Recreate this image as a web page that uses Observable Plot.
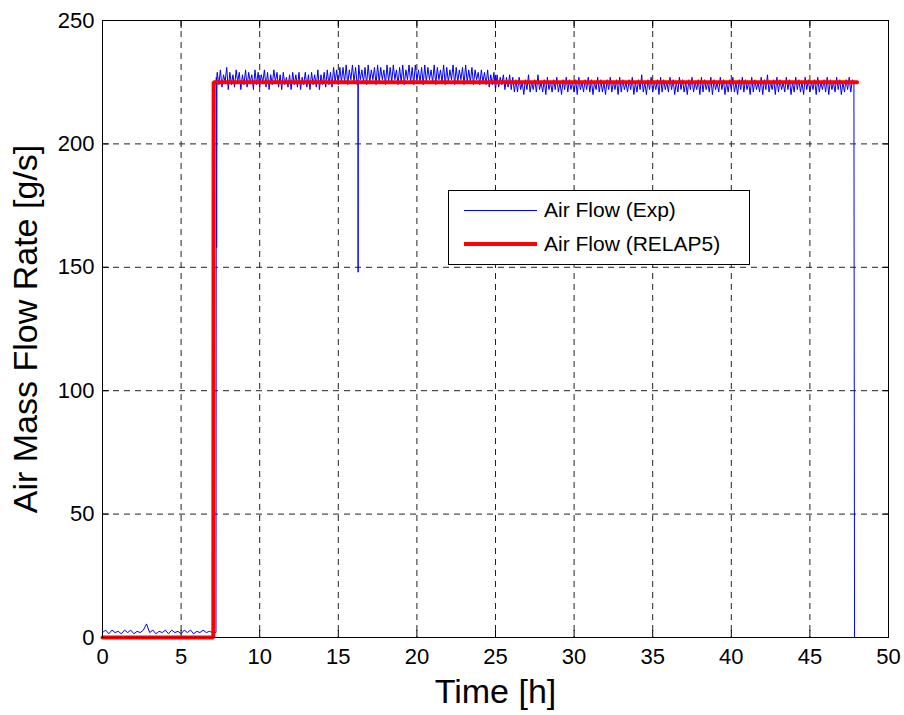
<!DOCTYPE html>
<html>
<head>
<meta charset="utf-8">
<script src="https://cdn.jsdelivr.net/npm/d3@7"></script>
<script src="https://cdn.jsdelivr.net/npm/@observablehq/plot@0.6"></script>
<style>
  body { margin: 0; background: white; font-family: "Liberation Sans", Arial, sans-serif; }
  #wrap { position: relative; width: 904px; height: 715px; }
  #legend { position: absolute; left: 448px; top: 190px; width: 302px; height: 75px; border: 1px solid black; background: white; box-sizing: border-box; }
  .item { position: absolute; left: 0; height: 30px; width: 300px; }
  .swatch { position: absolute; left: 15px; width: 73px; }
  .lbl { position: absolute; left: 95px; font-size: 21px; line-height: 30px; top: 0; white-space: nowrap; }
</style>
</head>
<body>
<div id="wrap">
  <div id="chart"></div>
  <div id="legend">
    <div class="item" style="top:4px"><div class="swatch" style="top:15px;height:1px;background:#0000ff"></div><div class="lbl">Air Flow (Exp)</div></div>
    <div class="item" style="top:38px"><div class="swatch" style="top:13px;height:4px;background:#ff0000"></div><div class="lbl">Air Flow (RELAP5)</div></div>
  </div>
</div>
<script>
// ---- Data ----
const xTicks = [0, 5, 10, 15, 20, 25, 30, 35, 40, 45, 50];
const yTicks = [0, 50, 100, 150, 200, 250];

// Experimental air flow (g/s); each segment is sampled at a fixed interval from its start time
const expPreStart = 0.0, expPreStep = 0.2;
const expPre = [2,3,1.5,3,2,2.5,1.5,3,2,3,1.5,2.5,2,3,5.5,2,3,1.5,2.5,2,3,1.5,3,2,2.5,1.5,3,2,3,1.5,2.5,2,3,2,2.5,2];
const bandStep = 0.1;
const expHigh1Start = 7.3;
const expHigh1 = [229,224,230,223,228,225,231,222,229,224,
  228,223,230,225,229,222,228,224,230,223,
  229,225,228,222,230,224,229,223,228,225,
  230,223,229,222,228,224,230,225,229,223,
  228,222,229,224,227,223,228,222,229,224,
  228,223,229,222,227,224,229,223,228,222,
  229,224,228,223,230,222,228,224,229,223,
  230,224,229,223,231,225,230,224,231,225];
const expHigh2Start = 15.3;
const expHigh2 = [231,225,232,224,230,226,232,225,231,224,
  232,226,230,225,231,224,232,225,230,226,
  231,224,232,225,231,226,230,224,232,225,
  231,225,232,226,230,224,231,225,232,224,
  230,226,232,225,231,224,232,226,230,225,
  231,224,232,225,231,226,230,225,232,224,
  231,226,230,225,232,224,231,225,230,226,
  232,224,231,225,230,226,231,224,232,225,
  230,225,231,224,230,226,229,224,230,225];
const expTransStart = 24.3;
const expTrans = [229,224,230,223,228,224,229,222,228,223,
  227,224,228,222,227,223,228,222,227,221];
const expLowStart = 26.3;
const expLow = [226,221,227,222,225,220,226,222,228,221,
  225,222,226,221,228,222,225,221,226,220,
  227,222,225,221,226,222,227,221,225,220,
  226,222,227,221,226,222,225,221,226,220,
  227,222,225,221,226,222,227,221,226,220,
  225,222,227,221,226,221,225,220,226,222,
  227,221,225,222,226,220,227,221,226,222,
  225,221,226,222,227,220,225,221,226,222,
  228,221,225,220,226,222,227,221,225,222,
  226,220,227,221,226,222,225,221,227,222,
  226,220,225,221,227,222,226,221,225,220,
  226,222,227,221,225,222,226,220,227,221,
  226,222,225,221,227,220,226,222,225,221,
  227,222,226,220,225,221,226,222,227,221,
  225,220,226,222,227,221,226,222,225,220,
  227,221,226,222,225,221,227,220,226,222,
  228,221,225,222,226,220,227,221,226,222,
  225,221,227,222,226,220,225,221,227,222,
  226,221,225,220,227,222,226,221,225,222,
  226,220,227,221,225,222,226,221,227,220,
  226,222,225,221,227,222,226,220,225,221,
  226,222,227,221,226];
// Individual events in the experimental record: [time h, flow g/s]
const expEvents = [[7.22, 2], [7.24, 227], [7.26, 158], [7.28, 228],
  [16.25, 226], [16.26, 148], [16.27, 226],
  [47.8, 225], [47.84, 0]];

// RELAP5 simulation: [time h, flow g/s]
const relapTime = [0, 7.05, 7.07, 48.0];
const relapFlow = [0, 0, 225, 225];

// ---- Build tables ----
const exp = [];
const segs = [[expPreStart, expPreStep, expPre], [expHigh1Start, bandStep, expHigh1], [expHigh2Start, bandStep, expHigh2], [expTransStart, bandStep, expTrans], [expLowStart, bandStep, expLow]];
for (const [start, step, vals] of segs) {
  vals.forEach((v, i) => exp.push({t: +(start + i * step).toFixed(3), v}));
}
expEvents.forEach(([t, v]) => exp.push({t, v}));
exp.sort((a, b) => a.t - b.t);
const relap = relapTime.map((t, i) => ({t, v: relapFlow[i]}));

const dash = "6,5";
const chart = Plot.plot({
  width: 904,
  height: 715,
  marginLeft: 102,
  marginRight: 16,
  marginTop: 20,
  marginBottom: 78,
  style: {fontFamily: "'Liberation Sans', Arial, sans-serif", fontSize: "22px", background: "white", color: "black"},
  x: {domain: [0, 50], ticks: xTicks},
  y: {domain: [0, 250], ticks: yTicks},
  marks: [
    Plot.gridX(xTicks, {stroke: "#222", strokeOpacity: 1, strokeDasharray: dash}),
    Plot.gridY(yTicks, {stroke: "#222", strokeOpacity: 1, strokeDasharray: dash}),
    Plot.axisX(xTicks, {anchor: "bottom", tickSize: -7, tickPadding: 18, label: null, fontSize: 22}),
    Plot.axisX(xTicks, {anchor: "top", tickSize: -7, tickFormat: () => "", label: null}),
    Plot.axisY(yTicks, {anchor: "left", tickSize: -7, tickPadding: 15, label: null, fontSize: 22}),
    Plot.axisY(yTicks, {anchor: "right", tickSize: -7, tickFormat: () => "", label: null}),
    Plot.line(exp, {x: "t", y: "v", stroke: "#0000ff", strokeWidth: 1}),
    Plot.line(relap, {x: "t", y: "v", stroke: "#ff0000", strokeWidth: 4, strokeLinejoin: "miter"}),
    Plot.frame({stroke: "black", strokeWidth: 1}),
    Plot.text(["Time [h]"], {frameAnchor: "bottom", dy: 55, fontSize: 34, textAnchor: "middle", lineAnchor: "middle"}),
    Plot.text(["Air Mass Flow Rate [g/s]"], {frameAnchor: "left", rotate: -90, dx: -76, fontSize: 34, textAnchor: "middle", lineAnchor: "middle"})
  ]
});
document.getElementById("chart").appendChild(chart);
</script>
</body>
</html>
